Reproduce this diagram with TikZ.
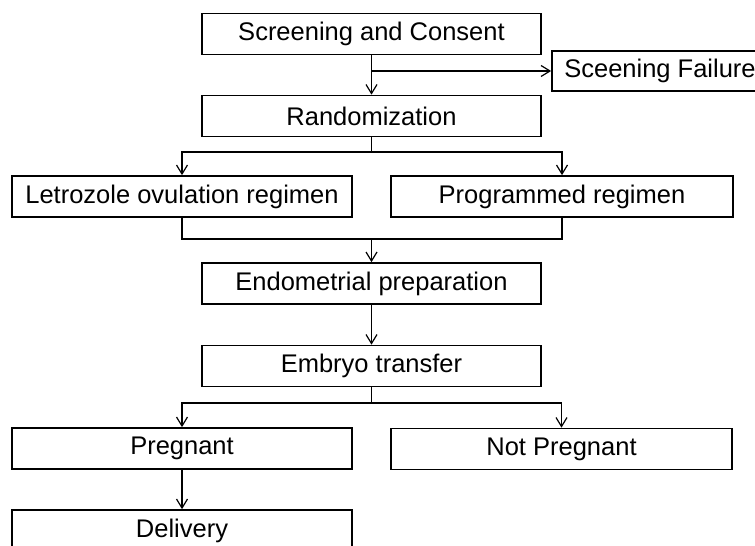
\documentclass[tikz,border=0pt]{standalone}
\usepackage{fontspec}
\setmainfont{Liberation Sans}
\usetikzlibrary{arrows.meta, positioning, calc}
\tikzset{
    % rectangular step of the study flow
    stepbox/.style={draw, line width=1.7pt, minimum height=41pt, inner sep=0pt,
                    font=\fontsize{25.5}{30}\selectfont},
    % plain connector pieces (no tip)
    wire/.style={line width=1.2pt},
    % connector ending in an open arrow tip
    flow/.style={wire, -{Straight Barb[length=9pt, width=11pt, line width=1.2pt]}},
}

\begin{document}
\begin{tikzpicture}[x=1pt, y=-1pt]

    \useasboundingbox (0,0) rectangle (755,546);
    \clip (0,0) rectangle (755,546);

    % ===== top: screening and randomization =====
    \node[stepbox, minimum width=339pt] (screen) at (371.5, 34)  {Screening and Consent};
    \node[stepbox, minimum width=216pt, minimum height=40pt] (fail) at (660, 71) {Sceening Failure};
    \node[stepbox, minimum width=339pt] (rand)   at (371.5, 116) {Randomization};

    \coordinate (exit) at (screen.south |- fail.west);
    \draw[flow] (screen.south) -- (rand.north);
    \draw[flow] (exit) -- (fail.west);

    % ===== two regimens =====
    \node[stepbox, minimum width=340pt] (letro) at (182, 196.5) {Letrozole ovulation regimen};
    \node[stepbox, minimum width=342pt] (prog)  at (562, 196.5) {Programmed regimen};

    \coordinate (split) at (371.5, 152);
    \draw[wire] (rand.south) -- (split);
    \draw[flow] (split) -| (letro.north);
    \draw[flow] (split) -| (prog.north);

    \coordinate (merge) at (371.5, 239);
    \draw[wire] (letro.south) |- (merge);
    \draw[wire] (prog.south) |- (merge);

    % ===== transfer =====
    \node[stepbox, minimum width=339pt] (endo)   at (371.5, 283.5) {Endometrial preparation};
    \node[stepbox, minimum width=339pt] (embryo) at (371.5, 366)   {Embryo transfer};

    \draw[flow] (merge) -- (endo.north);
    \draw[flow] (endo.south) -- (embryo.north);

    % ===== outcome =====
    \node[stepbox, minimum width=340pt] (preg)    at (182, 448.5) {Pregnant};
    \node[stepbox, minimum width=341pt] (notpreg) at (561.5, 449) {Not Pregnant};
    \node[stepbox, minimum width=340pt] (deliv)   at (182, 530.5) {Delivery};

    \coordinate (outc) at (371.5, 403);
    \draw[wire] (embryo.south) -- (outc);
    \draw[flow] (outc) -| (preg.north);
    \draw[flow] (outc) -| (notpreg.north);
    \draw[flow] (preg.south) -- (deliv.north);

\end{tikzpicture}
\end{document}
